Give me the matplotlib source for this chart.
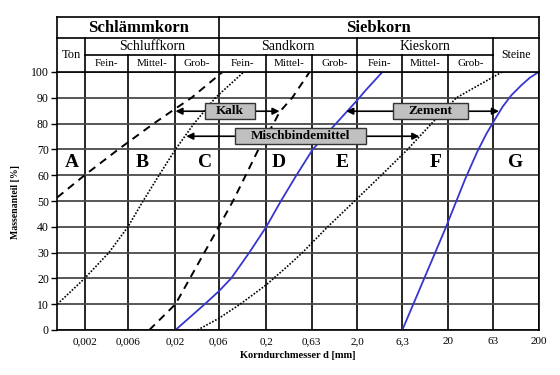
import matplotlib.pyplot as plt
from matplotlib.patches import Rectangle
from matplotlib.transforms import blended_transform_factory
from matplotlib.ticker import NullLocator

plt.rcParams['font.family'] = ['Liberation Serif', 'DejaVu Serif']

# grain size axis
tick_vals = [0.002, 0.006, 0.02, 0.06, 0.2, 0.63, 2.0, 6.3, 20, 63, 200]
tick_labels = ['0,002', '0,006', '0,02', '0,06', '0,2', '0,63', '2,0', '6,3', '20', '63', '200']

# curves (diameter in mm, passing %)
dash_left_d = [0.001, 0.002, 0.0047, 0.0115, 0.0185, 0.03, 0.066]
dash_left_p = [51.4, 60, 70, 80, 85, 90, 100]

dot_left_d = [0.001, 0.002, 0.0037, 0.006, 0.0088, 0.0132, 0.02, 0.032, 0.055, 0.113]
dot_left_p = [10, 20, 30, 40, 50, 60, 70, 80, 90, 100]

dash_mid_d = [0.0103, 0.02, 0.06, 0.086, 0.119, 0.164, 0.241, 0.28, 0.386, 0.6]
dash_mid_p = [0, 10, 40, 50, 60, 70, 80, 84.5, 90, 100]

blue_left_d = [0.02, 0.042, 0.06, 0.082, 0.13, 0.2, 0.29, 0.43, 0.65, 1.17, 2.0, 2.5, 3.8]
blue_left_p = [0, 10, 15, 20, 30, 40, 50, 60, 70, 80, 89, 93, 100]

dot_right_d = [0.035, 0.06, 0.103, 0.2, 0.35, 0.5, 0.95, 1.88, 3.7, 7.2, 13.2, 24.8, 79]
dot_right_p = [0, 4.5, 10, 17.5, 25, 30, 40, 50, 60, 70, 80, 90, 100]

blue_right_d = [6.3, 18.5, 31, 42, 53, 63, 80, 100, 130, 160, 200]
blue_right_p = [0, 38.8, 58.5, 69, 76, 80.5, 86.5, 91, 95, 97.8, 100]

# zone letters
zone_names = ['A', 'B', 'C', 'D', 'E', 'F', 'G']
zone_x = [0.00143, 0.0086, 0.042, 0.277, 1.37, 14.7, 112]

# binder boxes: label, x0, x1, y, left tip, right tip
box_names = ['Kalk', 'Mischbindemittel', 'Zement']
box_x0 = [0.042, 0.0896, 4.93]
box_x1 = [0.15, 2.51, 33.1]
box_y = [84.8, 75.1, 84.8]
tip_left = [0.02, 0.0263, 1.52]
tip_right = [0.28, 9.7, 73]

fig = plt.figure(figsize=(5.6, 3.75), dpi=100)
ax = fig.add_axes([57.3 / 560, 1 - 330 / 375, 481.4 / 560, 258 / 375])

ax.set_xscale('log')
ax.set_xlim(0.001, 200)
ax.set_ylim(0, 100)
ax.set_xticks(tick_vals)
ax.set_xticklabels(tick_labels)
ax.xaxis.set_minor_locator(NullLocator())
ax.set_yticks(range(0, 101, 10))
ax.tick_params(axis='x', length=0, pad=5, labelsize=8)
ax.tick_params(axis='y', length=4, width=1, pad=2, labelsize=8.5)
ax.xaxis.grid(True, color='black', lw=1.2)
ax.yaxis.grid(True, color='#4a4a4a', lw=1.3)
for s in ax.spines.values():
    s.set_linewidth(1.2)

ls_dash = (0, (4, 3))
ax.plot(dash_left_d, dash_left_p, color='black', lw=1.4, ls=ls_dash)
ax.plot(dot_left_d, dot_left_p, color='black', lw=1.2, ls=(0, (1, 1)))
ax.plot(dash_mid_d, dash_mid_p, color='black', lw=1.4, ls=ls_dash)
ax.plot(blue_left_d, blue_left_p, color='#3636d0', lw=1.3)
ax.plot(dot_right_d, dot_right_p, color='black', lw=1.2, ls=(0, (1, 1)))
ax.plot(blue_right_d, blue_right_p, color='#3636d0', lw=1.3)

for name, x in zip(zone_names, zone_x):
    ax.text(x, 64.8, name, ha='center', va='center', fontsize=14, fontweight='bold')

for i, name in enumerate(box_names):
    y = box_y[i]
    ax.add_patch(Rectangle((box_x0[i], y - 3.1), box_x1[i] - box_x0[i], 6.2,
                           facecolor='#c0c0c0', edgecolor='#333333', lw=1, zorder=5))
    xc = (box_x0[i] * box_x1[i]) ** 0.5
    ax.text(xc, y, name, ha='center', va='center', fontsize=9.5, fontweight='bold', zorder=6)
    arr = dict(arrowstyle='-|>', color='black', lw=1.2, mutation_scale=10, shrinkA=0, shrinkB=0)
    ax.annotate('', xy=(tip_left[i], y), xytext=(box_x0[i], y), arrowprops=arr, zorder=4)
    ax.annotate('', xy=(tip_right[i], y), xytext=(box_x1[i], y), arrowprops=arr, zorder=4)

# header table above the plot
tr = blended_transform_factory(ax.transData, ax.transAxes)
y_top, y_r1, y_r2, y_r3 = 1.2132, 1.1329, 1.0659, 1.0
kw = dict(color='black', lw=1.2, transform=tr, clip_on=False)
ax.plot([0.001, 200], [y_top, y_top], **kw)
ax.plot([0.001, 200], [y_r1, y_r1], **kw)
ax.plot([0.002, 63], [y_r2, y_r2], **kw)
for x in [0.001, 200]:
    ax.plot([x, x], [y_r3, y_top], **kw)
ax.plot([0.06, 0.06], [y_r1, y_top], **kw)
for x in [0.002, 0.06, 2.0, 63]:
    ax.plot([x, x], [y_r2, y_r1], **kw)
for x in tick_vals[:-1]:
    ax.plot([x, x], [y_r3, y_r2], **kw)

def gmid(a, b):
    return (a * b) ** 0.5

ax.text(gmid(0.001, 0.06), 1.17, 'Schlämmkorn', transform=tr, ha='center', va='center',
        fontsize=12, fontweight='bold')
ax.text(gmid(0.06, 200), 1.17, 'Siebkorn', transform=tr, ha='center', va='center',
        fontsize=12, fontweight='bold')
ax.text(gmid(0.001, 0.002), 1.066, 'Ton', transform=tr, ha='center', va='center', fontsize=9)
ax.text(gmid(63, 200), 1.066, 'Steine', transform=tr, ha='center', va='center', fontsize=8.5)
for lo, hi, name in [(0.002, 0.06, 'Schluffkorn'), (0.06, 2.0, 'Sandkorn'), (2.0, 63, 'Kieskorn')]:
    ax.text(gmid(lo, hi), 1.097, name, transform=tr, ha='center', va='center', fontsize=10)
sub = ['Fein-', 'Mittel-', 'Grob-'] * 3
for i, name in enumerate(sub):
    ax.text(gmid(tick_vals[i], tick_vals[i + 1]), 1.032, name, transform=tr,
            ha='center', va='center', fontsize=8)

fig.text(16 / 560, 1 - 202 / 375, 'Massenanteil [%]', rotation=90, ha='center', va='center',
         fontsize=7, fontweight='bold')
fig.text(298 / 560, 1 - 356 / 375, 'Korndurchmesser d [mm]', ha='center', va='center',
         fontsize=7.5, fontweight='bold')

fig.savefig('out.png', dpi=100)
